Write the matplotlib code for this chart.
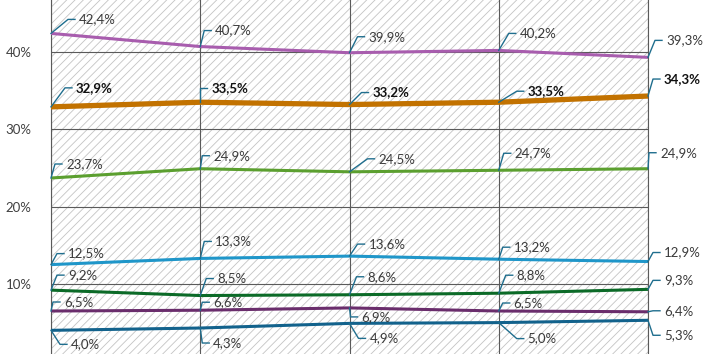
import matplotlib
matplotlib.use('Agg')
import matplotlib.pyplot as plt
from matplotlib.patches import Rectangle
from matplotlib.transforms import Affine2D

# data
periods = [0, 1, 2, 3, 4]
s_purple = [42.4, 40.7, 39.9, 40.2, 39.3]
s_orange = [32.9, 33.5, 33.2, 33.5, 34.3]
s_green = [23.7, 24.9, 24.5, 24.7, 24.9]
s_lightblue = [12.5, 13.3, 13.6, 13.2, 12.9]
s_darkgreen = [9.2, 8.5, 8.6, 8.8, 9.3]
s_darkpurple = [6.5, 6.6, 6.9, 6.5, 6.4]
s_darkblue = [4.0, 4.3, 4.9, 5.0, 5.3]
y_ticks = [10, 20, 30, 40]
y_ticklabels = ['10%', '20%', '30%', '40%']

# label placement: (dx, dy) in image pixels from the point (dy positive = down)
offsets = {
    'purple': [(28, -14), (15, -16), (19, -16), (21, -17), (18, -17)],
    'orange': [(25, -19), (11, -14), (23, -12), (29, -11), (16, -17)],
    'green': [(15, -14), (13, -13), (29, -13), (16, -17), (12, -16)],
    'lightblue': [(17, -11), (15, -17), (19, -12), (15, -12), (16, -9)],
    'darkgreen': [(17, -15), (17, -17), (18, -18), (18, -18), (16, -9)],
    'darkpurple': [(13, -9), (13, -8), (12, 9), (15, -8), (16, -1)],
    'darkblue': [(20, 14), (13, 15), (20, 15), (29, 16), (16, 15)],
}

series = [
    ('purple', s_purple, '#A85DAE', 2.2, False),
    ('orange', s_orange, '#C27200', 3.8, True),
    ('green', s_green, '#5B9F2F', 2.2, False),
    ('lightblue', s_lightblue, '#1F96C9', 2.2, False),
    ('darkgreen', s_darkgreen, '#0B6A27', 2.2, False),
    ('darkpurple', s_darkpurple, '#6A2D6C', 2.2, False),
    ('darkblue', s_darkblue, '#12628C', 2.2, False),
]

plt.rcParams['font.family'] = ['Lato', 'DejaVu Sans']
plt.rcParams['hatch.linewidth'] = 0.6

W, H = 707, 354
fig = plt.figure(figsize=(W / 100, H / 100), dpi=100)
ax = fig.add_axes([51 / W, 0, 597 / W, 1])
ax.set_xlim(0, 4)
ax.set_ylim(0.94, 46.72)

ax.add_patch(Rectangle((0, 0), 1, 1, transform=ax.transAxes, facecolor='white',
                       edgecolor='#C4C4C4', hatch='////', lw=0, zorder=0))
ax.set_axisbelow(True)
ax.set_xticks(periods)
ax.set_yticks(y_ticks)
ax.set_yticklabels(y_ticklabels)
ax.grid(True, color='#5A5A5A', lw=0.8)
ax.tick_params(axis='both', length=0)
ax.tick_params(axis='x', labelbottom=False)
ax.tick_params(axis='y', pad=14, labelcolor='#404040', labelsize=9.5)
for side in ['top', 'bottom']:
    ax.spines[side].set_visible(False)
for side in ['left', 'right']:
    ax.spines[side].set_color('#5A5A5A')
    ax.spines[side].set_linewidth(0.8)

for name, vals, color, lw, bold in series:
    ax.plot(periods, vals, color=color, lw=lw, solid_capstyle='butt', zorder=3)

fig.canvas.draw()
for name, vals, color, lw, bold in series:
    for x, v, (dx, dy) in zip(periods, vals, offsets[name]):
        px, py = ax.transData.transform((x, v))
        cx = max(dx - 11, 0)
        lx = [0, cx, dx - 4]
        ly = [0, -dy, -dy]
        ax.plot(lx, ly, color='#1F6E8E', lw=1.0, zorder=4, clip_on=False,
                transform=Affine2D().translate(px, py))
        label = f'{v:.1f}%'.replace('.', ',')
        ax.annotate(label, (x, v), xytext=(dx, -dy), textcoords='offset pixels',
                    ha='left', va='center', fontsize=9.5,
                    fontweight='bold' if bold else 'normal',
                    color='#111111' if bold else '#3A3A3A', zorder=5,
                    annotation_clip=False)

fig.savefig('out.png', dpi=100)
